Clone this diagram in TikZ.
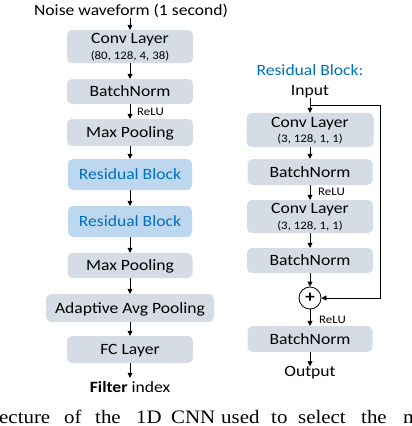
\documentclass[tikz,border=0pt]{standalone}
\usepackage{fontspec}
\setmainfont{Carlito}[FakeStretch=1.12]
\newfontfamily\capfont{Liberation Serif}[FakeStretch=1.1]
\usetikzlibrary{arrows.meta}
\definecolor{boxgray}{HTML}{D6DCE5}
\definecolor{boxblue}{HTML}{BDD7EE}
\definecolor{txtblue}{HTML}{0070C0}
\tikzset{
  layer/.style={fill=boxgray, rounded corners=5pt, inner sep=0pt,
    font=\fontsize{15.7}{15.5}\selectfont, text=black,
    text height=10.5pt, text depth=0.5pt},
  twoline/.style={layer, align=center, text height=26pt, text depth=1pt},
  resblock/.style={layer, fill=boxblue, text=txtblue},
  plain/.style={inner sep=0pt, font=\fontsize{15.7}{17}\selectfont},
  small/.style={inner sep=0pt, font=\fontsize{11.5}{13}\selectfont},
  flow/.style={-{Triangle[length=5pt,width=5pt]}, line width=0.8pt},
  capword/.style={inner sep=0pt, anchor=base west, font=\capfont\fontsize{19}{20}\selectfont},
}
\newcommand{\smallline}[1]{{\fontsize{11.5}{15.5}\selectfont #1}}
\begin{document}
\begin{tikzpicture}[x=1pt, y=-1pt]
\useasboundingbox (0,0) rectangle (412,426);
% ---- left column ----
\node[plain, anchor=base] (noise) at (131,15.5) {Noise waveform (1 second)};
\node[twoline, minimum width=126pt, minimum height=33pt] (conv1) at (130,46.5) {Conv Layer\\\smallline{(80, 128, 4, 38)}};
\node[layer, minimum width=126pt, minimum height=25pt] (bn1) at (130,91.5) {BatchNorm};
\node[small, anchor=base west] (relu1) at (137,115) {ReLU};
\node[layer, minimum width=126pt, minimum height=27pt] (mp1) at (130,132.5) {Max Pooling};
\node[resblock, minimum width=124pt, minimum height=31pt] (rb1) at (130,174.5) {Residual Block};
\node[resblock, minimum width=124pt, minimum height=31pt] (rb2) at (130,221.5) {Residual Block};
\node[layer, minimum width=125pt, minimum height=25pt] (mp2) at (130,265.5) {Max Pooling};
\node[layer, minimum width=168pt, minimum height=28pt] (aap) at (130,308) {Adaptive Avg Pooling};
\node[layer, minimum width=126pt, minimum height=27pt] (fc) at (130,349.5) {FC Layer};
\node[plain, anchor=base] (filter) at (130,392) {\textbf{Filter} index};
\draw[flow] (conv1.north |- noise.south) -- (conv1.north);
\draw[flow] (conv1.south) -- (bn1.north);
\draw[flow] (bn1.south) -- (mp1.north);
\draw[flow] (mp1.south) -- (rb1.north);
\draw[flow] (rb1.south) -- (rb2.north);
\draw[flow] (rb2.south) -- (mp2.north);
\draw[flow] (mp2.south) -- (aap.north);
\draw[flow] (aap.south) -- (fc.north);
\draw[flow, shorten >=3pt] (fc.south) -- (filter.north);
% ---- right column ----
\node[plain, text=txtblue, anchor=base] (rbtitle) at (310,75) {Residual Block:};
\node[plain, anchor=base] (input) at (310,95.7) {Input};
\node[twoline, minimum width=127pt, minimum height=34pt] (conv2) at (310,130) {Conv Layer\\\smallline{(3, 128, 1, 1)}};
\node[layer, minimum width=125pt, minimum height=26pt] (bn2) at (310,172) {BatchNorm};
\node[small, anchor=base west] (relu2) at (318,195) {ReLU};
\node[twoline, minimum width=126pt, minimum height=33pt] (conv3) at (310,216.5) {Conv Layer\\\smallline{(3, 128, 1, 1)}};
\node[layer, minimum width=126pt, minimum height=25pt] (bn3) at (310,260.5) {BatchNorm};
\node[circle, draw, line width=0.8pt, minimum size=22pt, inner sep=0pt,
      font=\fontsize{17}{17}\selectfont\bfseries] (plus) at (310,298) {+};
\node[small, anchor=base west] (relu3) at (319,323) {ReLU};
\node[layer, minimum width=125pt, minimum height=26pt] (bn4) at (310,339) {BatchNorm};
\node[plain, anchor=base] (output) at (310,376.7) {Output};
\coordinate (split) at (310,105);
\coordinate (skipR) at (380,105);
\draw[flow] (input.south) -- (conv2.north);
\draw[flow] (conv2.south) -- (bn2.north);
\draw[flow] (bn2.south) -- (conv3.north);
\draw[flow] (conv3.south) -- (bn3.north);
\draw[flow] (bn3.south) -- (plus.north);
\draw[flow] (plus.south) -- (bn4.north);
\draw[flow] (bn4.south) -- (output.north);
\draw[flow] (split) -- (skipR) |- (plus.east);
% ---- caption fragment ----
\node[capword] (c1) at (-1,423.5) {ecture};
\node[capword] (c2) at (64,423.5) {of};
\node[capword] (c3) at (95,423.5) {the};
\node[capword] (c4) at (136,423.5) {1D};
\node[capword] (c5) at (171,423.5) {CNN};
\node[capword] (c6) at (221,423.5) {used};
\node[capword] (c7) at (271,423.5) {to};
\node[capword] (c8) at (298,423.5) {select};
\node[capword] (c9) at (361,423.5) {the};
\node[capword] (c10) at (403,423.5) {mo};
\end{tikzpicture}
\end{document}
